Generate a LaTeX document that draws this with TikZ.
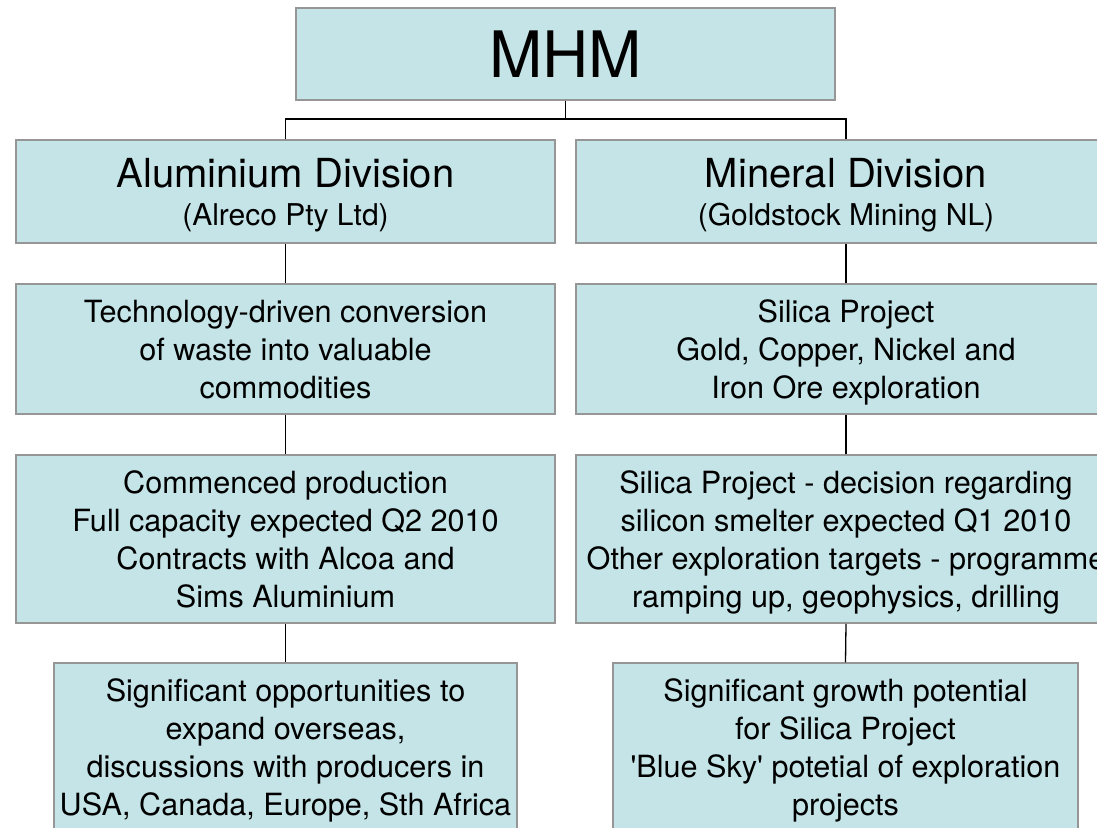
\documentclass[tikz,border=0pt]{standalone}
\usepackage{fontspec}
\setmainfont{TeX Gyre Heros}
\definecolor{boxfill}{RGB}{196,228,231}
\definecolor{boxline}{RGB}{150,150,150}
\begin{document}
\begin{tikzpicture}[x=1pt,y=1pt,
  box/.style={draw=boxline, fill=boxfill, line width=1.5pt, inner sep=0pt, align=center,
    text depth=0pt, font=\fontsize{30.6}{38}\selectfont},
  link/.style={draw=black, line width=1.3pt}]
\useasboundingbox (0,0) rectangle (1097,-827);
\clip (0,0) rectangle (1097,-827);
\node[box, minimum width=539, minimum height=92, font=\fontsize{64}{64}\selectfont] (mhm) at (565.5,-54) {MHM};
\node[box, minimum width=539, minimum height=103] (al1) at (285.5,-191.5)
  {{\fontsize{40}{44}\selectfont Aluminium Division}\\[0pt]{\fontsize{30}{38}\selectfont (Alreco Pty Ltd)}};
\node[box, minimum width=540, minimum height=103] (mi1) at (846,-191.5)
  {{\fontsize{40}{44}\selectfont Mineral Division}\\[0pt]{\fontsize{30}{38}\selectfont (Goldstock Mining NL)}};
\node[box, minimum width=539, minimum height=130] (al2) at (285.5,-349)
  {Technology-driven conversion\\of waste into valuable\\commodities};
\node[box, minimum width=540, minimum height=130] (mi2) at (846,-349)
  {Silica Project\\Gold, Copper, Nickel and\\Iron Ore exploration};
\node[box, minimum width=539, minimum height=168] (al3) at (285.5,-539)
  {Commenced production\\Full capacity expected Q2 2010\\Contracts with Alcoa and\\Sims Aluminium};
\node[box, minimum width=540, minimum height=168] (mi3) at (846,-539)
  {Silica Project - decision regarding\\silicon smelter expected Q1 2010\\Other exploration targets - programme\\ramping up, geophysics, drilling};
\node[box, minimum width=463, minimum height=168] (al4) at (285.5,-747)
  {Significant opportunities to\\expand overseas,\\discussions with producers in\\USA, Canada, Europe, Sth Africa};
\node[box, minimum width=465, minimum height=168] (mi4) at (845.5,-747)
  {Significant growth potential\\for Silica Project\\\textquotesingle Blue Sky\textquotesingle{} potetial of exploration\\projects};
\coordinate (bus) at (0,-119);
\draw[link] (mhm.south) -- (mhm.south |- bus);
\draw[link] (al1.north) -- (al1.north |- bus) -- (mi1.north |- bus) -- (mi1.north);
\draw[link] (al1.south) -- (al2.north);
\draw[link] (al2.south) -- (al3.north);
\draw[link] (al3.south) -- (al4.north);
\draw[link] (mi1.south) -- (mi2.north);
\draw[link] (mi2.south) -- (mi3.north);
\draw[link] (mi3.south) -- (mi4.north);
\end{tikzpicture}
\end{document}
